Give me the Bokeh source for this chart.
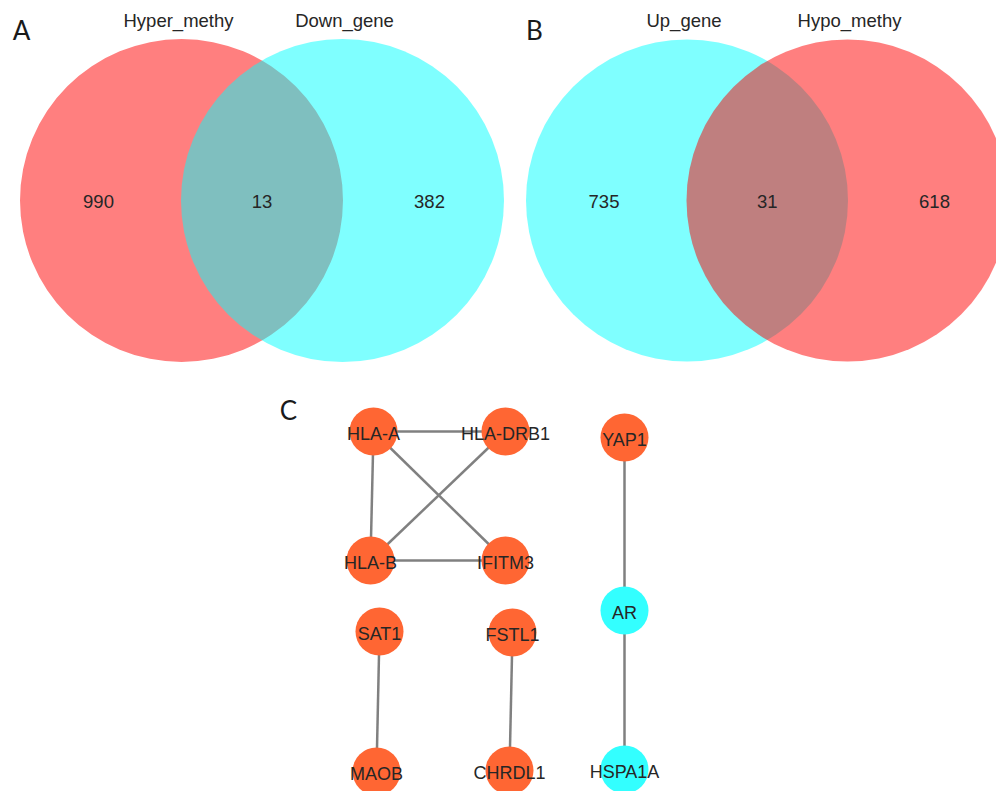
from bokeh.plotting import figure
from bokeh.models import Range1d, ColumnDataSource
from bokeh.core.properties import value
from bokeh.embed import file_html
from bokeh.resources import INLINE

# ---- Data ----
# Venn A
venn_a_sets = ["Hyper_methy", "Down_gene"]
venn_a_counts = [990, 13, 382]          # only left, both, only right
# Venn B
venn_b_sets = ["Up_gene", "Hypo_methy"]
venn_b_counts = [735, 31, 618]

# Network C
node_names = ["HLA-A", "HLA-DRB1", "HLA-B", "IFITM3", "YAP1", "AR", "HSPA1A",
              "SAT1", "MAOB", "FSTL1", "CHRDL1"]
node_x = [373, 505, 370, 505, 624, 624, 624, 379, 376, 512, 509]
node_y = [431, 431, 560, 560, 437, 610, 769, 631, 771, 632, 770]
node_type = ["hyper", "hyper", "hyper", "hyper", "hyper", "up", "up",
             "hyper", "hyper", "hyper", "hyper"]
edges = [("HLA-A", "HLA-DRB1"), ("HLA-A", "HLA-B"), ("HLA-A", "IFITM3"),
         ("HLA-DRB1", "HLA-B"), ("HLA-B", "IFITM3"), ("YAP1", "AR"),
         ("AR", "HSPA1A"), ("SAT1", "MAOB"), ("FSTL1", "CHRDL1")]

# ---- Figure ----
W, H = 996, 791
p = figure(width=W, height=H, output_backend="svg", toolbar_location=None,
           x_range=Range1d(0, W), y_range=Range1d(H, 0),
           min_border=0)
p.axis.visible = False
p.grid.visible = False
p.outline_line_color = None
p.background_fill_color = "white"

FONT = value("Liberation Sans")
TXT = "#262626"

def venn(cx_left, cx_right, cy, r, colors, sets, counts):
    for i in range(2):
        p.circle(x=[cx_left, cx_right][i], y=cy, radius=r, fill_color=colors[i],
                 fill_alpha=0.5, line_color=None)
    p.text(x=[cx_left - 3, cx_right + 2], y=[20, 20], text=sets,
           text_font=FONT, text_font_size="18.5px", text_color=TXT,
           text_align="center", text_baseline="middle")
    mid = (cx_left + cx_right) / 2
    xs = [cx_left - 83, mid, cx_right + 87]
    p.text(x=xs, y=[cy + 1] * 3, text=[str(v) for v in counts],
           text_font=FONT, text_font_size="18.5px", text_color=TXT,
           text_align="center", text_baseline="middle")

venn(181, 342, 200, 161.5, ["#FF0000", "#00FFFF"], venn_a_sets, venn_a_counts)
venn(686.5, 847, 200, 161, ["#00FFFF", "#FF0000"], venn_b_sets, venn_b_counts)

# Panel letters
p.text(x=[21, 534, 288], y=[29, 29, 409], text=["A", "B", "C"],
       text_font=value("Lato"), text_font_size="26px", text_color="#1a1a1a",
       text_align="center", text_baseline="middle")

# Network edges
idx = {n: i for i, n in enumerate(node_names)}
xs = [[node_x[idx[a]], node_x[idx[b]]] for a, b in edges]
ys = [[node_y[idx[a]], node_y[idx[b]]] for a, b in edges]
p.multi_line(xs=xs, ys=ys, line_color="#808080", line_width=2.5)

colors = ["#FF6633" if t == "hyper" else "#33FFFF" for t in node_type]
nsrc = ColumnDataSource(dict(x=node_x, y=node_y, c=colors, name=node_names,
                             ly=[v + 2 for v in node_y]))
p.circle(x="x", y="y", radius=24, fill_color="c", line_color=None, source=nsrc)
p.text(x="x", y="ly", text="name", source=nsrc, text_font=FONT,
       text_font_size="18px", text_color=TXT, text_align="center",
       text_baseline="middle")

open("out.html", "w").write(file_html(p, INLINE))
